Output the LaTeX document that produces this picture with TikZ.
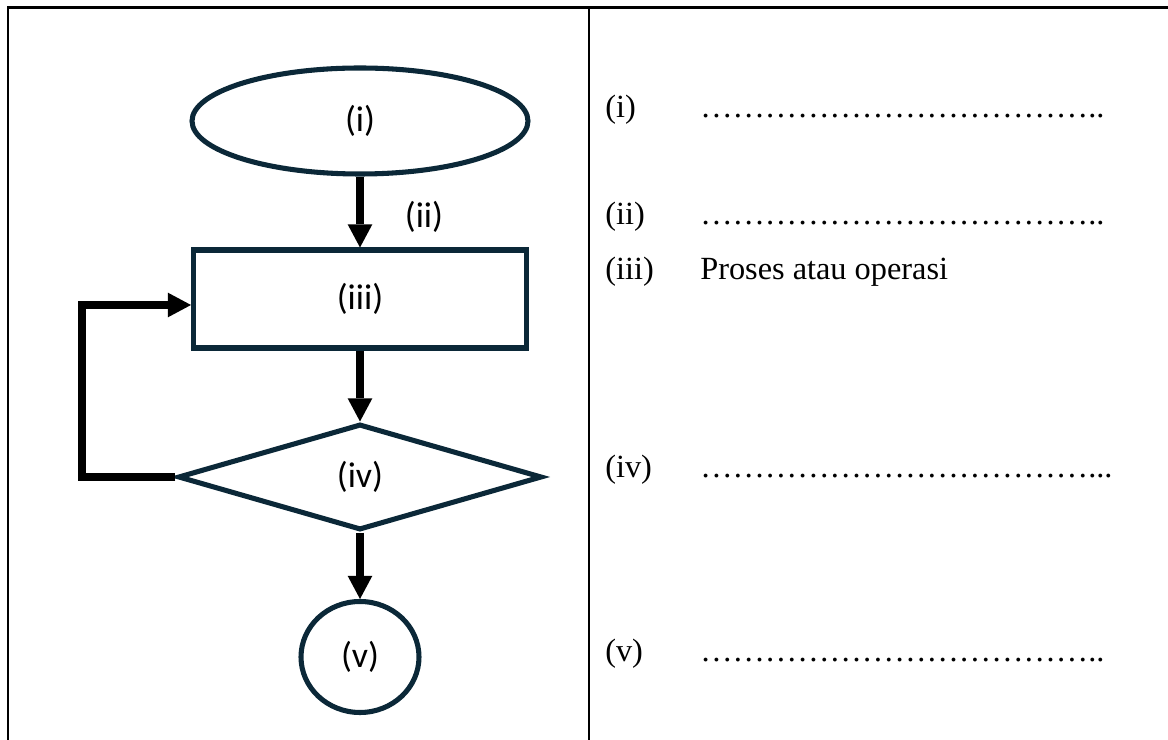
\documentclass[tikz,border=0pt]{standalone}
\usepackage{fontspec}
\setmainfont{Liberation Serif}
\newfontfamily\flowfont{Carlito}
\usetikzlibrary{shapes.geometric,arrows.meta}
\definecolor{boxnavy}{HTML}{0B2838}
\begin{document}
\begin{tikzpicture}
\useasboundingbox (0,0) rectangle (29.2,18.5);
% table rules
\draw[line width=1.5pt] (0.2,0) -- (0.2,18.3125) -- (29.2,18.3125);
\draw[line width=1.5pt] (14.725,0) -- (14.725,18.3125);

\tikzset{shapestyle/.style={draw=boxnavy,line width=3.6pt,inner sep=0pt,font=\flowfont\fontsize{25.5}{30}\selectfont}};
\node[shapestyle,ellipse,minimum width=8.4cm,minimum height=2.65cm] (start) at (9.0,15.475) {(i)};
\node[shapestyle,rectangle,minimum width=8.325cm,minimum height=2.45cm] (proc) at (9.0,11.025) {(iii)};
\node[shapestyle,diamond,minimum width=9.1cm,minimum height=2.65cm] (dec) at (9.0,6.575) {(iv)};
\node[shapestyle,ellipse,minimum width=2.95cm,minimum height=2.775cm] (stop) at (9.0,2.075) {(v)};
\node[font=\flowfont\fontsize{25.5}{30}\selectfont] (flowlbl) at (10.6,13.075) {(ii)};
\coordinate (back) at (2.05,6.575);

\tikzset{flowarrow/.style={-{Triangle[width=0.62cm,length=0.58cm,line width=0pt]},line width=5pt}};
\draw[flowarrow] (start) -- (proc);
\draw[flowarrow] (proc) -- (dec);
\draw[flowarrow] (dec) -- (stop);
\draw[flowarrow] (dec.west) -- (back) |- ([yshift=-0.15cm]proc.west);

\tikzset{listtext/.style={anchor=base west,inner sep=0pt,font=\fontsize{23}{28}\selectfont}};
\node[listtext] (ni) at (15.125,15.55) {(i)};
\node[listtext] (ti) at (17.5,15.55) {…………%
…………%
…………..};
\node[listtext] (nii) at (15.125,12.875) {(ii)};
\node[listtext] (tii) at (17.5,12.875) {…………%
…………%
…………..};
\node[listtext] (niii) at (15.125,11.5) {(iii)};
\node[listtext] (tiii) at (17.5,11.5) {Proses atau operasi};
\node[listtext] (niv) at (15.125,6.55) {(iv)};
\node[listtext] (tiv) at (17.5,6.55) {…………%
…………%
…………...};
\node[listtext] (nv) at (15.125,1.95) {(v)};
\node[listtext] (tv) at (17.5,1.95) {…………%
…………%
…………..};
\end{tikzpicture}
\end{document}
